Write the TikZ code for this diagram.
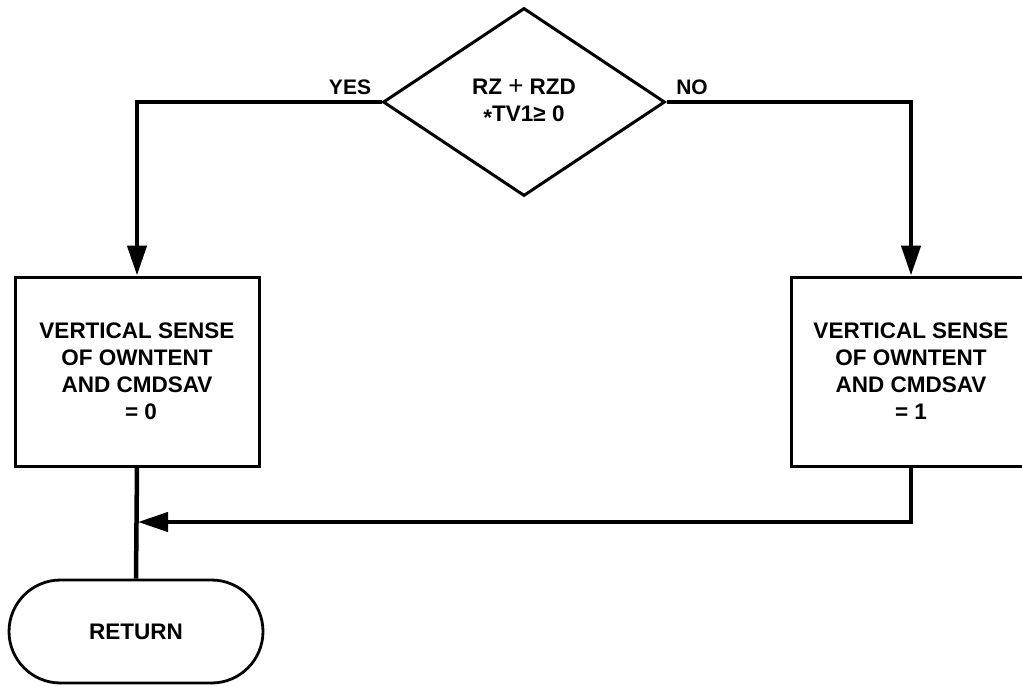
\documentclass[tikz,border=0pt]{standalone}
\usepackage{fontspec}
\setmainfont{Liberation Sans}
\usetikzlibrary{shapes.geometric,shapes.misc,arrows.meta}
\begin{document}
\begin{tikzpicture}[x=1pt,y=-1pt,
  every node/.style={font=\fontsize{22.5pt}{27pt}\selectfont\bfseries, align=center, inner sep=0pt},
  procbox/.style={draw, line width=3pt, minimum width=244pt, minimum height=189pt},
  decision/.style={draw, diamond, line width=3pt, minimum width=282pt, minimum height=188pt},
  term/.style={draw, rounded rectangle, line width=2.8pt, minimum width=254pt, minimum height=103pt},
  flow/.style={line width=4.5pt, line join=miter},
  arr/.style={flow, -{Triangle[length=30pt,width=19pt]}},
  lbl/.style={font=\fontsize{21pt}{24pt}\selectfont\bfseries}
]
\useasboundingbox (0,0) rectangle (1022,686);
\node[decision] (dia) at (524,102) {RZ {\fontsize{26pt}{27pt}\selectfont\mdseries +} RZD\\\raisebox{-4pt}{*}TV1≥ 0};
\node[procbox] (lbox) at (137,371.5) {VERTICAL SENSE\\OF OWNTENT\\AND CMDSAV\\\hspace{8pt}= 0};
\node[procbox, minimum width=240pt] (rbox) at (911,371.5) {VERTICAL SENSE\\OF OWNTENT\\AND CMDSAV\\= 1};
\node[term] (ret) at (136,631.5) {RETURN};
\node[lbl] (yes) at (350,87) {YES};
\node[lbl] (no) at (692,87) {NO};
\coordinate (join) at (138,522);
\draw[arr] (dia.west) -| (lbox.north);
\draw[arr] (dia.east) -| (rbox.north);
\draw[arr] (rbox.south) |- (join);
\draw[flow] (lbox.south) -- (ret.north);
\end{tikzpicture}
\end{document}
